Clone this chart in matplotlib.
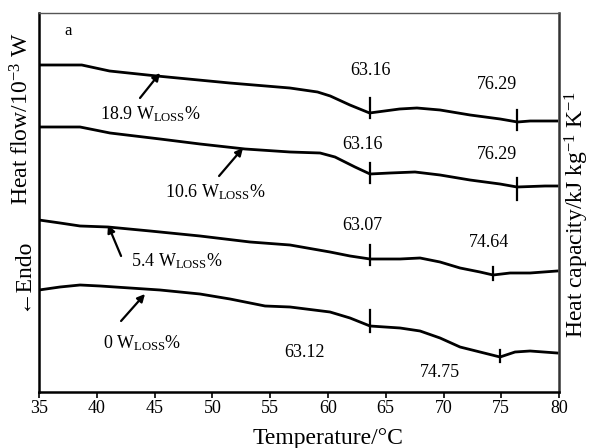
import matplotlib
matplotlib.use("Agg")
import matplotlib.pyplot as plt

plt.rcParams['font.family'] = ['Liberation Serif', 'DejaVu Serif']
plt.rcParams['mathtext.fontset'] = 'custom'
plt.rcParams['mathtext.rm'] = 'Liberation Serif'
plt.rcParams['mathtext.it'] = 'Liberation Serif:italic'
plt.rcParams['mathtext.bf'] = 'Liberation Serif:bold'

# Data (temperature in °C, heat flow in arbitrary units)
t1 = [35, 38.7, 41.1, 45.2, 51.5, 56.7, 59.1, 60.2, 61.9, 63.6, 64.9, 66.2, 67.7, 69.7, 72.3, 74.9, 76.4, 77.5, 79.8]
h1 = [335, 335, 329, 324, 317, 312, 308, 304, 295, 287, 289, 291, 292, 290, 285, 281, 278, 279, 279]

t2 = [35.0, 38.55, 39.85, 41.14, 45.47, 48.93, 52.83, 56.72, 59.32, 60.61, 62.34, 63.64, 65.37, 67.53, 69.70, 72.29, 74.89, 76.36, 78.79, 79.83]
h2 = [273, 273, 270, 267, 261, 256, 251, 248, 247, 243, 233, 226, 227, 228, 225, 220, 216, 213, 214, 214]

t3 = [35, 36.82, 38.55, 40.97, 44.61, 48.93, 53.26, 56.72, 60.18, 61.91, 63.64, 66.24, 67.97, 69.70, 71.43, 73.16, 74.29, 75.76, 77.49, 79.83]
h3 = [180, 177, 174, 173, 169, 164, 158, 155, 148, 144, 141, 141, 142, 138, 132, 128, 125, 127, 127, 129]

t4 = [35, 36.82, 38.55, 40.28, 42.87, 45.47, 48.93, 51.53, 54.56, 56.72, 60.18, 61.91, 63.64, 66.24, 67.97, 69.70, 71.43, 73.16, 74.89, 76.19, 77.49, 79.83]
h4 = [110, 113, 115, 114, 112, 110, 106, 101, 94, 93, 88, 82, 74, 72, 69, 62, 53, 48, 43, 48, 49, 47]

# transition marks: (temperature, low, high)
marks = [(63.6, 282, 302), (76.4, 270, 290),
         (63.6, 217, 237), (76.4, 200, 222),
         (63.6, 135, 155), (74.3, 120, 133),
         (63.6, 68, 90), (74.9, 38, 50)]

# value labels: (text, temperature, heat flow)
value_labels = [("63.16", 63.64, 329), ("76.29", 74.6, 315),
                ("63.16", 63.0, 255), ("76.29", 74.6, 245),
                ("63.07", 62.95, 174), ("74.64", 73.9, 157),
                ("63.12", 58.0, 47), ("74.75", 69.7, 27)]

# sample labels: (text, x, y, arrow start, arrow tip)
samples = [("18.9", 40.3, 281, (43.74, 302), (45.47, 327)),
           ("10.6", 45.9, 203, (50.58, 224), (52.65, 252)),
           ("5.4", 42.96, 134, (42.1, 144), (40.97, 175)),
           ("0", 40.5, 52, (42.1, 79), (44.17, 106))]

fig = plt.figure(figsize=(5.91, 4.48), dpi=100)
ax = fig.add_axes([0.066, 0.125, 0.88, 0.846])

for t, h in [(t1, h1), (t2, h2), (t3, h3), (t4, h4)]:
    ax.plot(t, h, color='black', lw=2.0, solid_joinstyle='miter')

for x, lo, hi in marks:
    ax.plot([x, x], [lo, hi], color='black', lw=1.6)

for txt, x, y in value_labels:
    ax.text(x, y, txt, ha='center', va='center', fontsize=13)

for num, x, y, s, e in samples:
    ax.text(x, y, num + r" W$_{\rm LOSS}$%", ha='left', va='baseline', fontsize=13)
    ax.annotate("", xy=e, xytext=s,
                arrowprops=dict(arrowstyle='-|>', lw=1.6, color='black',
                                mutation_scale=11, shrinkA=0, shrinkB=0))

ax.text(37.5, 369, "a", ha='center', va='center', fontsize=12)

ax.set_xlim(35, 80)
ax.set_ylim(8, 387)
ax.set_xticks(range(35, 81, 5))
ax.set_yticks([])
ax.tick_params(axis='x', direction='out', length=4, width=1.2, labelsize=13, pad=2)

for side in ['left', 'bottom', 'right']:
    ax.spines[side].set_linewidth(1.8)
    ax.spines[side].set_color('black')
ax.spines['right'].set_color('#333333')
ax.spines['top'].set_linewidth(1.0)
ax.spines['top'].set_color('#555555')

fig.text(328 / 591, 1 - 438 / 448, "Temperature/°C", ha='center', va='center', fontsize=17)
fig.text(22 / 591, 1 - 119 / 448, r"Heat flow/10$^{-3}$ W", rotation=90,
         ha='center', va='center', fontsize=17)
fig.text(22 / 591, 1 - 274 / 448, "←Endo", rotation=90,
         ha='center', va='center', fontsize=17, family=['Liberation Serif', 'DejaVu Sans'])
fig.text(577 / 591, 1 - 215 / 448, r"Heat capacity/kJ kg$^{-1}$ K$^{-1}$", rotation=90,
         ha='center', va='center', fontsize=17)

fig.savefig("out.png", dpi=100)
